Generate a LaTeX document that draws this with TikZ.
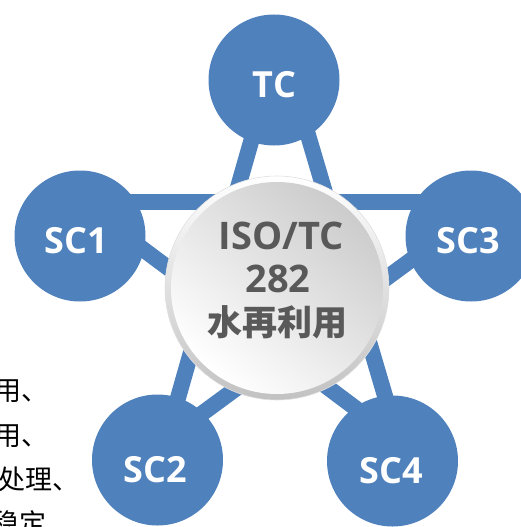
\documentclass[tikz,border=0pt]{standalone}
\usepackage{fontspec}
\newfontfamily\lat{Open Sans}
\newfontfamily\cjk{Noto Sans CJK SC}
\definecolor{nodeblue}{RGB}{79,129,189}
\definecolor{txtgray}{RGB}{89,89,89}
\begin{document}
\begin{tikzpicture}[x=1pt,y=-1pt,
  link/.style={draw=nodeblue,line width=16pt},
  ball/.style={circle,fill=nodeblue,minimum size=131pt,inner sep=0pt},
  balltext/.style={text=white,font=\lat\bfseries\fontsize{36}{36}\selectfont,inner sep=0pt},
  sidetext/.style={anchor=base west,inner sep=0pt,font=\cjk\fontsize{27}{27}\selectfont,text=black}]
\useasboundingbox (0,0) rectangle (521,527);
\clip (0,0) rectangle (521,527);
% star vertices
\coordinate (pA) at (280,40);
\coordinate (pB) at (80,202);
\coordinate (pC) at (490,202);
\coordinate (pD) at (166,440);
\coordinate (pE) at (398,440);
\draw[link] (pA) -- (pD);
\draw[link] (pA) -- (pE);
\draw[link] (pB) -- (pC);
\draw[link] (pB) -- (pE);
\draw[link] (pC) -- (pD);
% circles
\node[ball] (tc) at (274,80) {};
\node[ball] (sc1) at (80,236) {};
\node[ball] (sc3) at (471,236) {};
\node[ball] (sc2) at (157.5,460) {};
\node[ball] (sc4) at (392.5,461) {};
\node[balltext] (tct) at (274.5,85) {TC};
\node[balltext] (sc1t) at (76,241) {SC1};
\node[balltext] (sc3t) at (468.5,241) {SC3};
\node[balltext] (sc2t) at (155.5,469.5) {SC2};
\node[balltext] (sc4t) at (391.5,470.5) {SC4};
% centre disc
\coordinate (cc) at (277,288);
\shade[top color=white,bottom color=black!24] (cc) circle (112);
\draw[black!12,line width=0.6pt] (cc) circle (112);
\shade[top color=black!20,bottom color=white,shading angle=-40] (cc) circle (106);
\node[text=txtgray,font=\lat\bfseries\fontsize{38}{38}\selectfont,inner sep=0pt] (iso) at (281,235.5) {ISO/TC};
\node[text=txtgray,font=\lat\bfseries\fontsize{38}{38}\selectfont,inner sep=0pt] (num) at (278,278.5) {282};
\node[text=txtgray,font=\cjk\bfseries\fontsize{35}{35}\selectfont,inner sep=0pt] (cn) at (277,322) {水再利用};
% text fragments on the left
\node[sidetext] (l1) at (-6,400) {用、};
\node[sidetext] (l2) at (-6,445) {用、};
\node[sidetext] (l3) at (-2,489) {处理、};
\node[sidetext] (l4) at (-8,533) {稳定};
\end{tikzpicture}
\end{document}
